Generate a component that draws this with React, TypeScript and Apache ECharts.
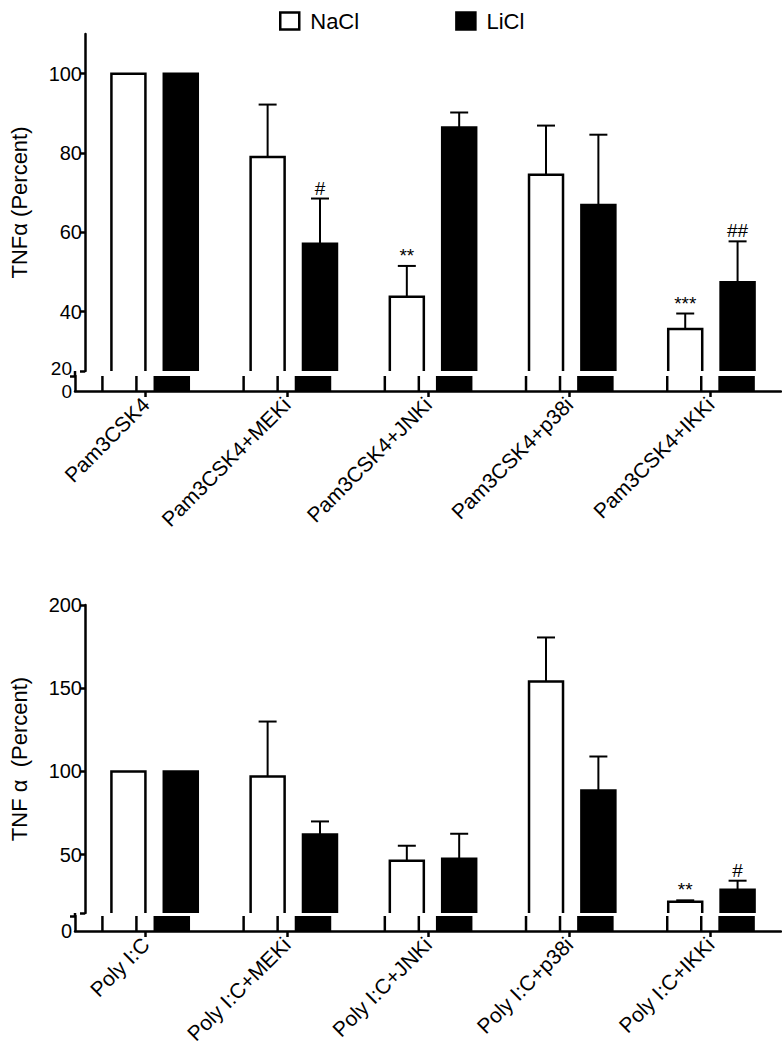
import React, { useEffect, useRef } from "react";
import * as echarts from "echarts";

// ---------- data ----------
const topCategories = ["Pam3CSK4", "Pam3CSK4+MEKi", "Pam3CSK4+JNKi", "Pam3CSK4+p38i", "Pam3CSK4+IKKi"];
const topNaCl = [100, 79, 43.7, 74.5, 35.6];
const topNaClErr = [100, 92.2, 51.5, 86.9, 39.5];
const topLiCl = [100, 57.1, 86.4, 66.9, 47.4];
const topLiClErr = [100, 68.5, 90.2, 84.6, 57.7];
const topNaClSig = ["", "", "**", "", "***"];
const topLiClSig = ["", "#", "", "", "##"];

const bottomCategories = ["Poly I:C", "Poly I:C+MEKi", "Poly I:C+JNKi", "Poly I:C+p38i", "Poly I:C+IKKi"];
const bottomNaCl = [100, 97, 46.4, 154, 21.8];
const bottomNaClErr = [100, 130, 55.4, 180.5, 22.6];
const bottomLiCl = [100, 62.2, 47.6, 88.6, 29];
const bottomLiClErr = [100, 70, 62.6, 109, 34.4];
const bottomNaClSig = ["", "", "", "", "**"];
const bottomLiClSig = ["", "", "", "", "#"];

const topUpperTicks = [25, 40, 60, 80, 100];
const topUpperLabels = [40, 60, 80, 100];
const topLowerTicks = [20];
const topLowerLabels = [0];
const topBreakLabels = [20];
const bottomUpperTicks = [15, 50, 100, 150, 200];
const bottomUpperLabels = [50, 100, 150, 200];
const bottomLowerTicks = [10];
const bottomLowerLabels = [0];

// ---------- layout / style ----------
const FONT = '"Liberation Sans", Arial, Helvetica, sans-serif';
const AXIS_X = 75;
const BAR_W = 34;
const BORDER = 2.5;
const BAR_GAP = 0.54;
const OFFSET = (BAR_W + BAR_W * BAR_GAP) / 2;
const CAP = 9;

const G = {
  topUpper: { top: 34, height: 337 },
  topLower: { top: 376, height: 15 },
  botUpper: { top: 605, height: 308 },
  botLower: { top: 916, height: 15 },
};

function barSeries(idx: number, vals: number[], side: number, name: string, filled: boolean) {
  return {
    type: "custom",
    name,
    xAxisIndex: idx,
    yAxisIndex: idx,
    z: 2,
    clip: false,
    itemStyle: filled ? { color: "#000" } : { color: "#fff", borderColor: "#000", borderWidth: BORDER },
    data: vals.map((v, i) => [i, v]),
    renderItem: (params: any, api: any) => {
      const cs = params.coordSys;
      const i = api.value(0);
      const v = api.value(1);
      const pv = api.coord([i, v]);
      const p0 = api.coord([i, 0]);
      const xc = pv[0] + side * OFFSET;
      const gTop = cs.y;
      const gBot = cs.y + cs.height;
      const inside = pv[1] >= gTop;
      const top = Math.max(pv[1], gTop);
      const bottom = Math.min(p0[1], gBot);
      if (bottom <= top) return { type: "group", children: [] };
      const xl = xc - BAR_W / 2;
      const xr = xc + BAR_W / 2;
      if (filled) {
        const t = inside ? top - BORDER / 2 : top;
        return {
          type: "rect",
          shape: { x: xl - BORDER / 2, y: t, width: BAR_W + BORDER, height: bottom - t },
          style: { fill: "#000" },
        };
      }
      if (inside) {
        return {
          type: "polyline",
          shape: { points: [[xl, bottom], [xl, top], [xr, top], [xr, bottom]] },
          style: { stroke: "#000", lineWidth: BORDER, fill: "none", lineJoin: "miter" },
        };
      }
      return {
        type: "group",
        children: [
          { type: "line", shape: { x1: xl, y1: bottom, x2: xl, y2: top }, style: { stroke: "#000", lineWidth: BORDER } },
          { type: "line", shape: { x1: xr, y1: bottom, x2: xr, y2: top }, style: { stroke: "#000", lineWidth: BORDER } },
        ],
      };
    },
  };
}

function errs(idx: number, vals: number[], tops: number[], sigs: string[], side: number, name: string) {
  return {
    type: "custom",
    name,
    xAxisIndex: idx,
    yAxisIndex: idx,
    z: 5,
    clip: false,
    data: vals.map((v, i) => [i, v, tops[i]]),
    renderItem: (params: any, api: any) => {
      const i = api.value(0);
      const v = api.value(1);
      const e = api.value(2);
      const base = api.coord([i, v]);
      const top = api.coord([i, e]);
      const x = base[0] + side * OFFSET;
      const children: any[] = [];
      if (e > v) {
        children.push({ type: "line", shape: { x1: x, y1: base[1], x2: x, y2: top[1] }, style: { stroke: "#000", lineWidth: 2 } });
        children.push({ type: "line", shape: { x1: x - CAP, y1: top[1], x2: x + CAP, y2: top[1] }, style: { stroke: "#000", lineWidth: 2 } });
      }
      const s = sigs[params.dataIndex];
      if (s) {
        children.push({
          type: "text",
          x,
          y: top[1] - 1,
          style: { text: s, fill: "#000", font: `19px ${FONT}`, align: "center", verticalAlign: "bottom", textAlign: "center", textVerticalAlign: "bottom" },
        });
      }
      return { type: "group", children };
    },
  };
}

function xAxis(idx: number, data: string[], show: boolean) {
  return {
    type: "category",
    gridIndex: idx,
    data,
    show,
    axisLine: { show: true, lineStyle: { color: "#000", width: 2.5 } },
    axisTick: { show: true, alignWithLabel: true, length: 6, lineStyle: { color: "#000", width: 2.5 } },
    axisLabel: { rotate: 45, interval: 0, margin: 10, fontSize: 21, fontFamily: FONT, color: "#000" },
    splitLine: { show: false },
  };
}

function yAxis(
  idx: number,
  min: number,
  max: number,
  ticks: number[],
  labels: number[],
  name?: string,
  lineShown = true,
  vAlign?: string,
  fontSize = 20
) {
  return {
    type: "value",
    gridIndex: idx,
    position: "left",
    offset: 0,
    min,
    max,
    name: name || "",
    nameLocation: "middle",
    nameGap: 55,
    nameTextStyle: { fontSize: 22, fontFamily: FONT, color: "#000" },
    axisLine: { show: lineShown, onZero: false, lineStyle: { color: "#000", width: 2.5 } },
    axisTick: { show: ticks.length > 0, length: 5, customValues: ticks, lineStyle: { color: "#000", width: 2.5 } },
    axisLabel: {
      show: true,
      customValues: labels,
      showMinLabel: true,
      showMaxLabel: true,
      hideOverlap: false,
      margin: 3,
      fontSize,
      verticalAlign: vAlign,
      lineHeight: vAlign ? 16 : undefined,
      fontFamily: FONT,
      color: "#000",
    },
    splitLine: { show: false },
  };
}

export default function App() {
  const ref = useRef<HTMLDivElement>(null);
  useEffect(() => {
    if (!ref.current) return;
    const chart = echarts.init(ref.current, undefined, { renderer: "svg" });
    const grids = [G.topUpper, G.topLower, G.botUpper, G.botLower].map((g) => ({ left: AXIS_X, right: 1, top: g.top, height: g.height }));
    const bridge = (y1: number, y2: number) => ({
      type: "line",
      shape: { x1: AXIS_X, y1, x2: AXIS_X, y2 },
      style: { stroke: "#000", lineWidth: 2.5 },
    });
    chart.setOption({
      animation: false,
      backgroundColor: "#fff",
      textStyle: { fontFamily: FONT },
      legend: {
        top: 5,
        left: 274,
        itemWidth: 19,
        itemHeight: 17,
        itemGap: 96,
        textStyle: { fontSize: 22, fontFamily: FONT, color: "#000", padding: [0, 0, 0, 6] },
        data: [
          { name: "NaCl", icon: "rect", itemStyle: { color: "#fff", borderColor: "#000", borderWidth: 2.5 } },
          { name: "LiCl", icon: "rect", itemStyle: { color: "#000", borderColor: "#000", borderWidth: 2.5 } },
        ],
      },
      grid: grids,
      xAxis: [
        xAxis(0, topCategories, false),
        xAxis(1, topCategories, true),
        xAxis(2, bottomCategories, false),
        xAxis(3, bottomCategories, true),
      ],
      yAxis: [
        yAxis(0, 25, 110, topUpperTicks, topUpperLabels, "TNFα (Percent)"),
        yAxis(1, 0, 20, topLowerTicks, topLowerLabels, "", true, "middle", 19),
        yAxis(2, 15, 200, bottomUpperTicks, bottomUpperLabels, "TNF α  (Percent)"),
        yAxis(3, 0, 10, bottomLowerTicks, bottomLowerLabels),
        yAxis(1, 0, 20, [], topBreakLabels, "", false, "bottom", 19),
      ],
      graphic: [
        bridge(G.topUpper.top + G.topUpper.height, G.topLower.top),
        bridge(G.botUpper.top + G.botUpper.height, G.botLower.top),
      ],
      series: [
        barSeries(0, topNaCl, -1, "NaCl", false),
        barSeries(0, topLiCl, 1, "LiCl", true),
        barSeries(1, topNaCl, -1, "NaCl", false),
        barSeries(1, topLiCl, 1, "LiCl", true),
        barSeries(2, bottomNaCl, -1, "NaCl", false),
        barSeries(2, bottomLiCl, 1, "LiCl", true),
        barSeries(3, bottomNaCl, -1, "NaCl", false),
        barSeries(3, bottomLiCl, 1, "LiCl", true),
        errs(0, topNaCl, topNaClErr, topNaClSig, -1, "errTopNa"),
        errs(0, topLiCl, topLiClErr, topLiClSig, 1, "errTopLi"),
        errs(2, bottomNaCl, bottomNaClErr, bottomNaClSig, -1, "errBotNa"),
        errs(2, bottomLiCl, bottomLiClErr, bottomLiClSig, 1, "errBotLi"),
      ],
    });
    return () => chart.dispose();
  }, []);
  return <div ref={ref} style={{ position: "absolute", left: 0, top: 0, width: 782, height: 1048 }} />;
}
